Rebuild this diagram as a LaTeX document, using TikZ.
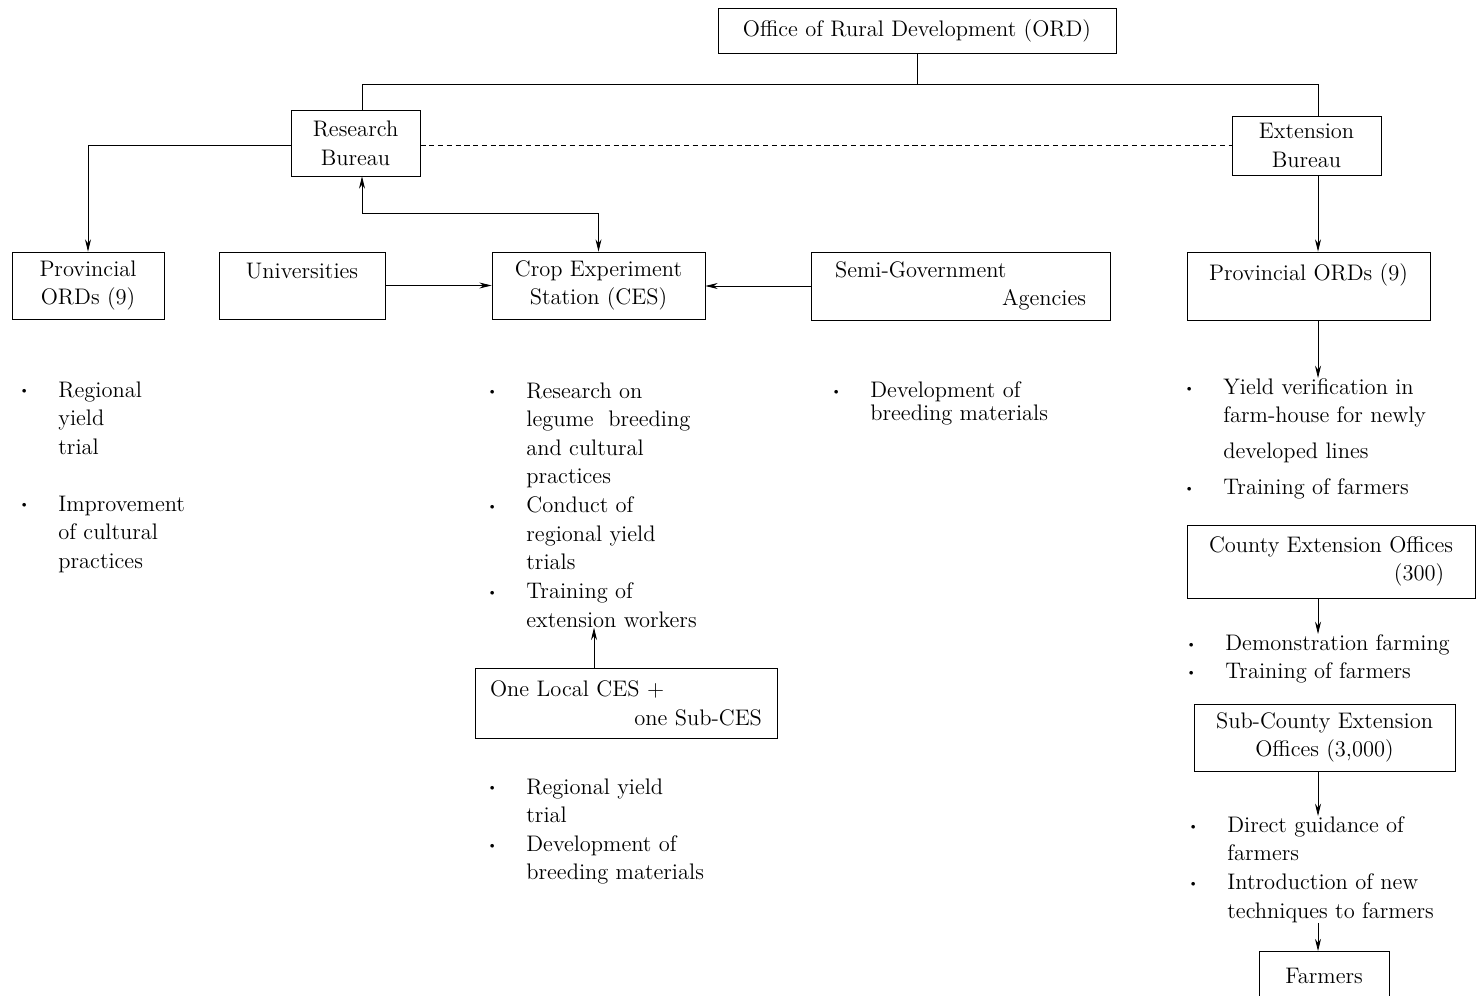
\documentclass[tikz,border=0pt]{standalone}
\usetikzlibrary{positioning,arrows.meta}
\newcommand{\bul}{\makebox[0pt][r]{\raisebox{1.2pt}{\scalebox{0.6}{\textbullet}}\hspace{0.58cm}}}
\begin{document}
\begin{tikzpicture}[x=0.02cm,y=-0.02cm,>={Stealth[length=7pt,width=3.4pt]},line width=0.45pt,
    every node/.style={font=\fontsize{12.8}{16.3}\selectfont},
    unit box/.style={draw,align=center,inner sep=0pt},
    split box/.style={draw,align=left},
    bullet list/.style={anchor=north west,align=left,inner sep=0pt}]
\useasboundingbox (0,0) rectangle (1476,996);

% boxes
\node[unit box,minimum width=7.96cm,minimum height=0.9cm] (ord) at (917,30.5) {Office of Rural Development (ORD)};
\node[unit box,minimum width=2.58cm,minimum height=1.32cm] (rb) at (355.5,143) {Research\\Bureau};
\node[unit box,minimum width=2.98cm,minimum height=1.18cm] (eb) at (1306.5,145.5) {Extension\\Bureau};
\node[unit box,minimum width=3.04cm,minimum height=1.34cm] (pordl) at (88,285.5) {Provincial\\ORDs (9)};
\node[unit box,minimum width=3.32cm,minimum height=1.34cm] (univ) at (302,285.5) {Universities\\~};
\node[unit box,minimum width=4.26cm,minimum height=1.34cm] (ces) at (598.5,285.5) {Crop Experiment\\Station (CES)};
\node[split box,inner xsep=0.48cm,text width=5.02cm,minimum height=1.36cm] (semi) at (960.5,286) {Semi-Government\\\hspace*{\fill}Agencies};
\node[unit box,minimum width=4.86cm,minimum height=1.36cm] (pordr) at (1308.5,286) {Provincial ORDs (9)\\~};
\node[split box,inner xsep=0.3cm,text width=5.44cm,minimum height=1.4cm] (local) at (626,703) {One Local CES +\\\hspace*{\fill}one Sub-CES};
\node[split box,minimum width=5.76cm,minimum height=1.46cm] (county) at (1331,561.5) {County Extension Offices\\\hspace*{3.7cm}(300)};
\node[unit box,minimum width=5.22cm,minimum height=1.34cm] (subc) at (1324.5,737.5) {Sub-County Extension\\Offices (3,000)};
\node[unit box,minimum width=2.6cm,minimum height=0.98cm] (farm) at (1324,976) {Farmers};

% bullet lists
\node[bullet list] (pordllist) at (58,381) {\bul Regional\\yield\\trial\\[16pt]\bul Improvement\\of cultural\\practices};
\node[bullet list] (ceslist) at (526,382) {\bul Research on\\legume\ \ breeding\\and cultural\\practices\\\bul Conduct of\\regional yield\\trials\\\bul Training of\\extension workers};
\node[bullet list] (semilist) at (870,381) {\bul Development of\\[-3pt]breeding materials};
\node[bullet list] (locallist) at (526,778) {\bul Regional yield\\trial\\\bul Development of\\breeding materials};
\node[bullet list] (extlist) at (1223,378) {\bul Yield verification in\\farm-house for newly\\[4pt]developed lines\\[4pt]\bul Training of farmers};
\node[bullet list] (countylist) at (1225,634) {\bul Demonstration farming\\\bul Training of farmers};
\node[bullet list] (subclist) at (1227,816) {\bul Direct guidance of\\farmers\\\bul Introduction of new\\techniques to farmers};

% connectors
\coordinate (split) at (917,84);
\coordinate (rbx) at (362,0);
\coordinate (spine) at (1318,0);
\coordinate (elbow) at (362,213);

\draw (ord.south) -- (split) -| (rbx |- rb.north);
\draw (split) -| (spine |- eb.north);
\draw[dash pattern=on 3pt off 2pt] (rb.east |- eb.west) -- (eb.west);
\draw[->] (rb.west |- eb.west) -| (pordl.north);
\draw[<->] (rbx |- rb.south) -- (elbow) -| (ces.north);
\draw[->] (univ) -- (ces);
\draw[->] (semi.west) -- (ces.east |- semi.west);
\draw[->] ([xshift=-0.64cm]local.north) -- ([xshift=-0.64cm]local.north |- ceslist.south);
\draw[->] (spine |- eb.south) -- (spine |- pordr.north);
\draw[->] (spine |- pordr.south) -- (spine |- extlist.north);
\draw[->] (spine |- county.south) -- (spine |- countylist.north);
\draw[->] (spine |- subc.south) -- (spine |- subclist.north);
\draw[->] (spine |- subclist.south) -- (spine |- farm.north);
\end{tikzpicture}
\end{document}
